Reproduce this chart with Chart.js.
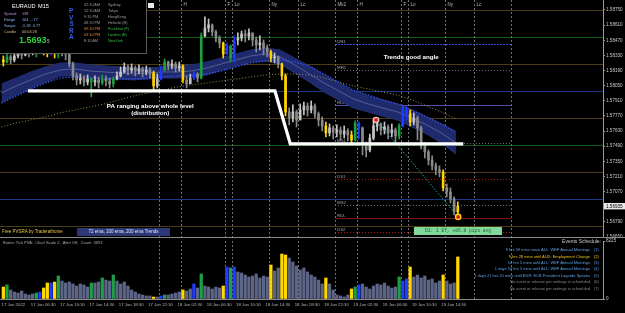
<!DOCTYPE html>
<html>
<head>
<meta charset="utf-8">
<title>EURAUD,M15 PVSRA</title>
<script src="https://cdn.jsdelivr.net/npm/chart.js@4.4.1/dist/chart.umd.min.js"></script>
<style>
html, body { margin: 0; padding: 0; background: #000; }
#wrap { position: relative; width: 625px; height: 313px; overflow: hidden; background: #000; font-family: "Liberation Sans", Arial, sans-serif; }
#priceChart { position: absolute; left: 0; top: 0; }
#volChart { position: absolute; left: 0; top: 238px; }
#sep { position: absolute; left: 0; top: 237px; width: 625px; height: 1px; background: #8a8a8a; }
.t { position: absolute; white-space: nowrap; line-height: 1; }
#info { position: absolute; left: 0; top: 0; width: 146px; height: 53px; background: #000; border-right: 1px solid #5a5a5a; border-bottom: 1px solid #5a5a5a; }
#info .row { font-size: 3.8px; }
#closeBtn { position: absolute; left: 148px; top: 3px; width: 6px; height: 5px; background: #e8e8e8; }
#emaBox { position: absolute; left: 77px; top: 228px; width: 93px; height: 8px; background: #2d3775; color: #dfe4ff; font-size: 4.5px; line-height: 8px; text-align: center; }
#d1Box { position: absolute; left: 414px; top: 227px; width: 88px; height: 8px; background: #80d89a; color: #255a35; font-family: "Liberation Mono", monospace; font-size: 4.6px; line-height: 8px; text-align: center; }
#events .ev { position: absolute; right: 35px; font-size: 4px; white-space: nowrap; line-height: 1; }
#events .num { position: absolute; left: 594px; font-size: 4px; white-space: nowrap; line-height: 1; }
</style>
</head>
<body>
<div id="wrap">
  <canvas id="priceChart" width="625" height="240"></canvas>
  <div id="sep"></div>
  <canvas id="volChart" width="625" height="75"></canvas>

  <div id="info">
    <div class="t" style="left:12px;top:4px;font-size:5.6px;color:#fff">EURAUD</div>
    <div class="t" style="left:38px;top:4px;font-size:5.6px;color:#fff">M15</div>
    <div class="t row" style="left:4px;top:12.5px;color:#b98de0">Spread</div>
    <div class="t row" style="left:22px;top:12.5px;color:#c88de0">138</div>
    <div class="t row" style="left:4px;top:18.5px;color:#8ab8f0">Range</div>
    <div class="t row" style="left:22px;top:18.5px;color:#8ab8f0">104 &nbsp;...77</div>
    <div class="t row" style="left:4px;top:25px;color:#8ab8f0">Swaps</div>
    <div class="t row" style="left:22px;top:25px;color:#8ab8f0">-5.33 &nbsp;0.77</div>
    <div class="t row" style="left:4px;top:31px;color:#d8b98a">Candle</div>
    <div class="t row" style="left:22px;top:31px;color:#d8b98a">00:04:28</div>
    <div class="t" style="left:19px;top:35.5px;font-size:9px;font-weight:bold;color:#2ecc40">1.5693</div>
    <div class="t" style="left:47px;top:39.5px;font-size:4.5px;color:#d0d0d0">5</div>
    <div class="t" style="left:69px;top:8px;font-size:6.5px;font-weight:bold;color:#3b5ee0">P</div>
    <div class="t" style="left:69px;top:14.5px;font-size:6.5px;font-weight:bold;color:#3b5ee0">V</div>
    <div class="t" style="left:69.5px;top:21px;font-size:6.5px;font-weight:bold;color:#3b5ee0">S</div>
    <div class="t" style="left:69px;top:27.5px;font-size:6.5px;font-weight:bold;color:#3b5ee0">R</div>
    <div class="t" style="left:69px;top:34px;font-size:6.5px;font-weight:bold;color:#3b5ee0">A</div>
    <div class="t row" style="left:84px;top:4px;color:#9a9a9a">02:10 AM</div>
    <div class="t row" style="left:108px;top:4px;color:#9a9a9a">Sydney</div>
    <div class="t row" style="left:84px;top:10px;color:#9a9a9a">12:10 AM</div>
    <div class="t row" style="left:108px;top:10px;color:#9a9a9a">Tokyo</div>
    <div class="t row" style="left:84px;top:15.5px;color:#9a9a9a">9:10 PM</div>
    <div class="t row" style="left:108px;top:15.5px;color:#9a9a9a">HongKong</div>
    <div class="t row" style="left:84px;top:21.5px;color:#9a9a9a">08:10 PM</div>
    <div class="t row" style="left:108px;top:21.5px;color:#9a9a9a">Helsinki (B)</div>
    <div class="t row" style="left:84px;top:27.5px;color:#d98a3a">09:10 PM</div>
    <div class="t row" style="left:108px;top:27.5px;color:#3cb84a">Frankfurt (F)</div>
    <div class="t row" style="left:84px;top:33.5px;color:#d98a3a">03:10 PM</div>
    <div class="t row" style="left:108px;top:33.5px;color:#3cb84a">London (B)</div>
    <div class="t row" style="left:84px;top:39.5px;color:#9a9a9a">8:10 AM</div>
    <div class="t row" style="left:108px;top:39.5px;color:#3cb84a">NewYork</div>
  </div>
  <div id="closeBtn"></div>

  <div class="t" style="left:2px;top:229.5px;font-size:4.5px;color:#e8c34a">Free PVSRA by Traderathome</div>
  <div id="emaBox">72 ema, 100 ema, 200 ema Trends</div>
  <div id="d1Box">D1: 1 Ef, +86.8 pips avg</div>

  <div class="t" style="left:3px;top:240.5px;font-size:4px;color:#a8a8a8">Broker Tick PVA: &nbsp;Chart Scale 2, &nbsp;Alert Off, &nbsp;Count &nbsp;3693</div>
  <div class="t" style="right:24px;top:238.5px;font-size:5px;color:#c8c8c8">Events Schedule:</div>
  <div id="events">
    <div class="ev" style="top:248px;color:#5aa0e6">9 hrs 59 mins since ALL: WEF Annual Meetings</div><div class="num" style="top:248px;color:#5aa0e6">(1)</div>
    <div class="ev" style="top:254.5px;color:#e6c020">9 hrs 28 mins until AUD: Employment Change</div><div class="num" style="top:254.5px;color:#e6c020">(2)</div>
    <div class="ev" style="top:261px;color:#5aa0e6">10 hrs 5 mins until ALL: WEF Annual Meetings</div><div class="num" style="top:261px;color:#5aa0e6">(3)</div>
    <div class="ev" style="top:267px;color:#5aa0e6">1 days 10 hrs 5 mins until ALL: WEF Annual Meetings</div><div class="num" style="top:267px;color:#5aa0e6">(4)</div>
    <div class="ev" style="top:273.5px;color:#5aa0e6">1 days 21 hrs 20 mins until EUR: ECB President Lagarde Speaks</div><div class="num" style="top:273.5px;color:#5aa0e6">(5)</div>
    <div class="ev" style="top:280px;color:#8a8a8a">No event or release per settings is scheduled</div><div class="num" style="top:280px;color:#8a8a8a">(6)</div>
    <div class="ev" style="top:286.5px;color:#8a8a8a">No event or release per settings is scheduled</div><div class="num" style="top:286.5px;color:#8a8a8a">(7)</div>
  </div>
</div>

<script>
// time axis: hours since 17 Jan 02:30 (broker time), one candle per half hour
const FIRST_HOUR = 0.25;
const STEP_HOURS = 0.5;
const X_MIN = -0.205;
const X_MAX = 82.06;
const TIME_TICKS = [0, 4, 8, 12, 16, 20, 24, 28, 32, 36, 40, 44, 48, 52, 56, 60];
const TIME_LABELS = ['17 Jan 2022', '17 Jan 06:30', '17 Jan 10:30', '17 Jan 14:30', '17 Jan 18:30', '17 Jan 22:30',
    '18 Jan 02:30', '18 Jan 06:30', '18 Jan 10:30', '18 Jan 14:30', '18 Jan 18:30', '18 Jan 22:30',
    '19 Jan 02:30', '19 Jan 06:30', '19 Jan 10:30', '19 Jan 14:30'];

// price axis
const PRICE_MIN = 1.5665;
const PRICE_MAX = 1.588425;
const PRICE_TICKS = [1.5875, 1.5861, 1.5847, 1.5833, 1.5819, 1.5805, 1.5791, 1.5777, 1.5763, 1.5749,
    1.5735, 1.5721, 1.5707, 1.5679, 1.5665];
const LAST_PRICE = 1.56935;

// candles
const FIRST_OPEN = 1.58288;
const CLOSE = [
    1.58269, 1.58316, 1.58288, 1.58325, 1.58353, 1.58334, 1.58371, 1.58353, 1.58380, 1.58362,
    1.58399, 1.58380, 1.58362, 1.58399, 1.58353, 1.58390, 1.58362, 1.58343, 1.58251, 1.58140,
    1.58103, 1.58121, 1.58084, 1.58112, 1.58084, 1.58103, 1.58075, 1.58112, 1.58094, 1.58066,
    1.58112, 1.58140, 1.58177, 1.58223, 1.58195, 1.58214, 1.58186, 1.58205, 1.58177, 1.58195,
    1.58168, 1.58047, 1.58112, 1.58195, 1.58269, 1.58232, 1.58251, 1.58214, 1.58232, 1.58103,
    1.58066, 1.58121, 1.58158, 1.58121, 1.58510, 1.58584, 1.58612, 1.58547, 1.58491, 1.58445,
    1.58343, 1.58417, 1.58306, 1.58473, 1.58491, 1.58528, 1.58510, 1.58538, 1.58473, 1.58427,
    1.58445, 1.58399, 1.58362, 1.58306, 1.58316, 1.58251, 1.58140, 1.57807, 1.57751, 1.57807,
    1.57733, 1.57825, 1.57862, 1.57825, 1.57862, 1.57788, 1.57733, 1.57677, 1.57613, 1.57659,
    1.57622, 1.57640, 1.57603, 1.57631, 1.57594, 1.57548, 1.57705, 1.57659, 1.57502, 1.57455,
    1.57566, 1.57677, 1.57696, 1.57640, 1.57668, 1.57613, 1.57640, 1.57585, 1.57677, 1.57825,
    1.57788, 1.57714, 1.57751, 1.57659, 1.57492, 1.57437, 1.57363, 1.57308, 1.57271, 1.57252,
    1.57104, 1.57067, 1.57002, 1.56882, 1.56935
];
const HIGH = [
    1.58325, 1.58343, 1.58334, 1.58362, 1.58390, 1.58380, 1.58408, 1.58399, 1.58417, 1.58408,
    1.58436, 1.58427, 1.58417, 1.58436, 1.58408, 1.58417, 1.58408, 1.58390, 1.58362, 1.58269,
    1.58168, 1.58158, 1.58140, 1.58149, 1.58121, 1.58140, 1.58131, 1.58149, 1.58140, 1.58121,
    1.58131, 1.58177, 1.58223, 1.58260, 1.58242, 1.58251, 1.58232, 1.58242, 1.58223, 1.58232,
    1.58214, 1.58186, 1.58158, 1.58232, 1.58297, 1.58279, 1.58288, 1.58269, 1.58269, 1.58242,
    1.58140, 1.58158, 1.58177, 1.58168, 1.58538, 1.58686, 1.58667, 1.58621, 1.58565, 1.58510,
    1.58454, 1.58445, 1.58427, 1.58510, 1.58538, 1.58556, 1.58565, 1.58575, 1.58538, 1.58501,
    1.58510, 1.58473, 1.58427, 1.58380, 1.58353, 1.58325, 1.58260, 1.58158, 1.57844, 1.57872,
    1.57825, 1.57881, 1.57899, 1.57890, 1.57909, 1.57881, 1.57807, 1.57761, 1.57714, 1.57696,
    1.57677, 1.57687, 1.57668, 1.57677, 1.57650, 1.57631, 1.57724, 1.57714, 1.57668, 1.57529,
    1.57603, 1.57733, 1.57742, 1.57705, 1.57714, 1.57687, 1.57696, 1.57659, 1.57696, 1.57853,
    1.57853, 1.57825, 1.57798, 1.57770, 1.57677, 1.57520, 1.57455, 1.57400, 1.57335, 1.57308,
    1.57271, 1.57141, 1.57104, 1.57021, 1.56975
];
const LOW = [
    1.58232, 1.58260, 1.58251, 1.58269, 1.58306, 1.58297, 1.58325, 1.58316, 1.58334, 1.58316,
    1.58343, 1.58334, 1.58316, 1.58334, 1.58306, 1.58306, 1.58325, 1.58288, 1.58223, 1.58103,
    1.58057, 1.58066, 1.58047, 1.58057, 1.57946, 1.58047, 1.58029, 1.58057, 1.58047, 1.58029,
    1.58038, 1.58103, 1.58131, 1.58168, 1.58149, 1.58168, 1.58140, 1.58158, 1.58131, 1.58149,
    1.58121, 1.58010, 1.58029, 1.58103, 1.58186, 1.58195, 1.58205, 1.58177, 1.58186, 1.58075,
    1.58029, 1.58075, 1.58103, 1.58084, 1.58112, 1.58501, 1.58547, 1.58510, 1.58454, 1.58399,
    1.58306, 1.58334, 1.58269, 1.58269, 1.58427, 1.58464, 1.58454, 1.58473, 1.58417, 1.58362,
    1.58380, 1.58334, 1.58316, 1.58269, 1.58260, 1.58214, 1.58103, 1.57770, 1.57687, 1.57714,
    1.57668, 1.57733, 1.57779, 1.57770, 1.57798, 1.57751, 1.57677, 1.57631, 1.57576, 1.57585,
    1.57557, 1.57576, 1.57548, 1.57566, 1.57539, 1.57520, 1.57539, 1.57557, 1.57409, 1.57391,
    1.57437, 1.57548, 1.57631, 1.57594, 1.57603, 1.57557, 1.57576, 1.57529, 1.57557, 1.57668,
    1.57733, 1.57677, 1.57687, 1.57548, 1.57465, 1.57381, 1.57317, 1.57271, 1.57225, 1.57206,
    1.57076, 1.57021, 1.56965, 1.56854, 1.56826
];
// PVSRA class per candle: n normal, y yellow, g green, b blue
const PVSRA = 'ygnnnnnnng' + 'byybygnnnn' + 'nnnngnngnn' + 'gnnnnnnnnn' + 'nynbgnnnny' +
    'nnbngnnnnn' + 'ybgbnnnnnn' + 'nnnynnyynn' + 'nnnnnnnnyn' + 'nnnnnygbnn' +
    'nnnnnnnngb' + 'bynnnnnnnn' + 'ynnny';
const VOLUME = [
    1700, 2000, 1280, 990, 850, 1130, 710, 570, 710, 850,
    990, 1560, 2270, 2270, 2410, 3260, 2550, 2270, 2410, 2130,
    1840, 2130, 1990, 1700, 2270, 2270, 2410, 2980, 2690, 2550,
    3400, 2550, 2130, 2410, 1840, 1280, 990, 710, 570, 430,
    430, 280, 280, 430, 570, 570, 710, 850, 990, 1280,
    1130, 1420, 2130, 1560, 3550, 1840, 1700, 1420, 1700, 1560,
    1840, 4540, 4400, 4540, 3830, 3690, 3400, 3120, 3260, 3550,
    2980, 3260, 3120, 4820, 3970, 4400, 6380, 6240, 5810, 5250,
    4680, 4110, 4400, 3830, 3400, 3120, 2690, 2130, 2980, 2130,
    1280, 570, 430, 280, 570, 1420, 1700, 1990, 2130, 1700,
    1420, 1840, 2130, 1990, 2270, 1840, 1560, 1700, 3120, 2550,
    2840, 4540, 3120, 3400, 2980, 3260, 2690, 2840, 2270, 2550,
    3400, 2550, 2130, 2270, 5960
];
const VOL_MAX = 8225;

// moving averages, sampled every 2 hours
const EMA_HOURS = [0, 2, 4, 6, 8, 10, 12, 14, 16, 18, 20, 22, 24, 26, 28, 30,
    32, 34, 36, 38, 40, 42, 44, 46, 48, 50, 52, 54, 56, 58, 60, 62];
const BAND_TOP = [1.58066, 1.58121, 1.58177, 1.58223, 1.58260, 1.58260, 1.58242, 1.58232, 1.58223, 1.58214,
    1.58214, 1.58223, 1.58232, 1.58242, 1.58269, 1.58306, 1.58343, 1.58380, 1.58399, 1.58380,
    1.58306, 1.58232, 1.58149, 1.58075, 1.58001, 1.57955, 1.57918, 1.57881, 1.57825, 1.57761,
    1.57696, 1.57622];
const BAND_BOTTOM = [1.57899, 1.57964, 1.58029, 1.58084, 1.58140, 1.58140, 1.58121, 1.58112, 1.58112, 1.58103,
    1.58112, 1.58121, 1.58121, 1.58131, 1.58149, 1.58195, 1.58232, 1.58269, 1.58279, 1.58251,
    1.58168, 1.58084, 1.57992, 1.57918, 1.57844, 1.57807, 1.57770, 1.57733, 1.57668, 1.57603,
    1.57520, 1.57418];
const EMA72 = [1.57983, 1.58047, 1.58103, 1.58158, 1.58195, 1.58205, 1.58186, 1.58177, 1.58168, 1.58158,
    1.58168, 1.58177, 1.58177, 1.58186, 1.58214, 1.58251, 1.58288, 1.58325, 1.58343, 1.58316,
    1.58242, 1.58158, 1.58075, 1.58001, 1.57927, 1.57881, 1.57844, 1.57807, 1.57751, 1.57687,
    1.57613, 1.57520];
const EMA100 = [1.57890, 1.57955, 1.58020, 1.58075, 1.58121, 1.58131, 1.58121, 1.58112, 1.58112, 1.58112,
    1.58121, 1.58131, 1.58140, 1.58149, 1.58158, 1.58186, 1.58223, 1.58260, 1.58279, 1.58288,
    1.58269, 1.58232, 1.58158, 1.58084, 1.58010, 1.57964, 1.57918, 1.57881, 1.57825, 1.57761,
    1.57696, 1.57622];
const EMA200 = [1.57668, 1.57705, 1.57733, 1.57761, 1.57798, 1.57825, 1.57853, 1.57881, 1.57918, 1.57955,
    1.57983, 1.58010, 1.58038, 1.58057, 1.58075, 1.58094, 1.58112, 1.58131, 1.58149, 1.58158,
    1.58158, 1.58149, 1.58121, 1.58084, 1.58047, 1.58020, 1.57992, 1.57964, 1.57918, 1.57862,
    1.57807, 1.57742];

// quarter levels
const LEVEL_PRICES = [1.5875, 1.5850, 1.5825, 1.5800, 1.5775, 1.5750, 1.5725, 1.5700, 1.5675];
const LEVEL_COLORS = ['#4a3c14', '#0d5e14', '#4a3c14', '#1a3a86', '#4a3c14', '#0d5e14', '#4a3c14', '#1a3a86', '#4a3c14'];

// sessions
const SESSION_HOURS = [21.5, 24.5, 30.5, 31.5, 36.5, 40.5, 45.5, 48.5, 54.5, 55.5, 60.5, 64.5, 69.5];
const SESSION_LABELS = ['', 'H', 'F', 'Lo', 'Ny', 'Lc', 'Mk2', 'H', 'F', 'Lo', 'Ny', 'Lc', ''];

// daily pivot levels for 19 Jan
const PIVOT_FROM = 45.5;
const PIVOT_TO = 69.5;
const PIVOT_NAMES = ['DR1', 'MR1', 'RDH', 'MS1', 'DS1', 'MS2', 'RDL', 'DS2'];
const PIVOT_PRICES = [1.58436, 1.58195, 1.57872, 1.57520, 1.57187, 1.56947, 1.56826, 1.56696];
const PIVOT_COLORS = ['#2f52d8', '#6d6d6d', '#5a4fa8', '#6d6d6d', '#b01818', '#6d6d6d', '#7a1414', '#b01818'];
const PIVOT_DASH = [[2, 1], [1, 2], [], [1, 2], [1, 2], [1, 2], [], [1, 2]];

// hand drawn objects
const WHITE_HOURS = [3.6, 37.3, 39.4, 63.0];
const WHITE_PRICES = [1.58001, 1.58001, 1.57511, 1.57511];
const TREND_HOURS = [51.1, 62.3];
const TREND_PRICES = [1.57733, 1.56836];
const MARK_HOURS = [51.1, 62.3];
const MARK_PRICES = [1.57733, 1.56836];
const NOTE_TEXTS = ['PA ranging above whole level', '(distribution)', 'Trends good angle'];
const NOTE_HOURS = [20.3, 20.3, 55.9];
const NOTE_PRICES = [1.57862, 1.57795, 1.58316];

const FONT = '"Liberation Sans", Arial, sans-serif';
const COLORS = { y: '#ffd400', g: '#1e9e3e', b: '#1e3cff' };
const VOL_COLORS = { y: '#ffd800', g: '#1f9e46', b: '#1f3cff', n: '#5d6587' };

const candleX = CLOSE.map((c, i) => FIRST_HOUR + i * STEP_HOURS);
const opens = CLOSE.map((c, i) => i === 0 ? FIRST_OPEN : CLOSE[i - 1]);
const candleColors = CLOSE.map((c, i) => COLORS[PVSRA[i]] || (c >= opens[i] ? '#c4c4c4' : '#8a8a8a'));
const volColors = VOLUME.map((v, i) => VOL_COLORS[PVSRA[i]]);
const pts = (xs, ys) => xs.map((t, i) => ({ x: t, y: ys[i] }));

function drawSessions(chart, withLabels) {
    const { ctx, chartArea: a, scales: { x } } = chart;
    ctx.save();
    ctx.strokeStyle = '#6e6e6e';
    ctx.lineWidth = 1;
    ctx.setLineDash([2, 2]);
    ctx.font = '4.6px ' + FONT;
    ctx.fillStyle = '#b4b4b4';
    ctx.textBaseline = 'middle';
    SESSION_HOURS.forEach((t, k) => {
        const px = Math.round(x.getPixelForValue(t)) + 0.5;
        ctx.beginPath();
        ctx.moveTo(px, a.top);
        ctx.lineTo(px, a.bottom);
        ctx.stroke();
        if (withLabels && SESSION_LABELS[k]) ctx.fillText(SESSION_LABELS[k], px + 2, a.top + 4.5);
    });
    ctx.restore();
}

const priceOverlay = {
    id: 'priceOverlay',
    beforeDatasetsDraw(chart) {
        const { ctx, chartArea: a, scales: { x, y } } = chart;
        ctx.save();
        // quarter levels
        LEVEL_PRICES.forEach((p, k) => {
            const py = Math.round(y.getPixelForValue(p)) + 0.5;
            ctx.strokeStyle = LEVEL_COLORS[k];
            ctx.beginPath();
            ctx.moveTo(a.left, py);
            ctx.lineTo(a.right, py);
            ctx.stroke();
        });
        // pivots
        const x0 = x.getPixelForValue(PIVOT_FROM);
        const x1 = x.getPixelForValue(PIVOT_TO);
        ctx.font = '4.4px ' + FONT;
        ctx.textBaseline = 'bottom';
        PIVOT_PRICES.forEach((p, k) => {
            const py = Math.round(y.getPixelForValue(p)) + 0.5;
            ctx.strokeStyle = PIVOT_COLORS[k];
            ctx.setLineDash(PIVOT_DASH[k]);
            ctx.beginPath();
            ctx.moveTo(x0, py);
            ctx.lineTo(x1, py);
            ctx.stroke();
            ctx.fillStyle = '#a0a0a0';
            ctx.fillText(PIVOT_NAMES[k], x0 + 2, py - 1);
        });
        ctx.restore();
        drawSessions(chart, true);
    },
    afterDatasetsDraw(chart) {
        const { ctx, chartArea: a, scales: { x, y } } = chart;
        ctx.save();
        ctx.fillStyle = '#ffffff';
        ctx.font = 'bold 6.2px ' + FONT;
        ctx.textAlign = 'center';
        ctx.textBaseline = 'middle';
        NOTE_TEXTS.forEach((s, k) => {
            ctx.fillText(s, x.getPixelForValue(NOTE_HOURS[k]), y.getPixelForValue(NOTE_PRICES[k]));
        });
        // current price box on the axis
        const py = y.getPixelForValue(LAST_PRICE);
        ctx.fillStyle = '#e8e8e8';
        ctx.fillRect(a.right + 1, py - 3.2, 21, 6.4);
        ctx.fillStyle = '#000';
        ctx.font = '4.6px ' + FONT;
        ctx.textAlign = 'left';
        ctx.fillText(LAST_PRICE.toFixed(5), a.right + 3, py + 0.2);
        ctx.restore();
    }
};

new Chart(document.getElementById('priceChart'), {
    type: 'bar',
    data: {
        datasets: [
            { type: 'line', data: pts(EMA_HOURS, BAND_TOP), borderColor: '#25317a', borderWidth: 1, pointRadius: 0, fill: false, order: 30 },
            { type: 'line', data: pts(EMA_HOURS, BAND_BOTTOM), borderColor: '#25317a', borderWidth: 1, pointRadius: 0, fill: '-1', backgroundColor: '#1f2a6c', order: 29 },
            { type: 'line', data: pts(EMA_HOURS, EMA200), borderColor: '#9a8e4a', borderWidth: 1, borderDash: [1, 2], pointRadius: 0, order: 28 },
            { type: 'line', data: pts(EMA_HOURS, EMA72), borderColor: '#5f6c9c', borderWidth: 0.8, pointRadius: 0, order: 27 },
            { type: 'line', data: pts(EMA_HOURS, EMA100), borderColor: '#3557ff', borderWidth: 1.2, borderDash: [1.5, 1.5], pointRadius: 0, order: 26 },
            { data: candleX.map((t, i) => ({ x: t, y: [LOW[i], HIGH[i]] })), backgroundColor: candleColors, barThickness: 1, grouped: false, order: 10 },
            { data: candleX.map((t, i) => ({ x: t, y: [opens[i], CLOSE[i]] })), backgroundColor: candleColors, barThickness: 2, minBarLength: 1, grouped: false, order: 9 },
            { type: 'line', data: pts(TREND_HOURS, TREND_PRICES), borderColor: '#2aa0a0', borderWidth: 1, borderDash: [1.5, 1.5], pointRadius: 0, order: 3 },
            { type: 'line', data: pts(WHITE_HOURS, WHITE_PRICES), borderColor: '#ffffff', borderWidth: 3.2, pointRadius: 0, tension: 0, order: 2 },
            { type: 'line', data: pts(MARK_HOURS, MARK_PRICES), showLine: false, pointRadius: 2.6, pointBackgroundColor: '#e01414', pointBorderColor: ['#f2c8c8', '#ffd200'], pointBorderWidth: 1.4, order: 1 }
        ]
    },
    options: {
        animation: false,
        responsive: false,
        devicePixelRatio: 1,
        layout: { autoPadding: false, padding: { top: 0, right: 0, bottom: 3, left: 0 } },
        plugins: { legend: { display: false }, tooltip: { enabled: false } },
        scales: {
            x: { type: 'linear', display: false, min: X_MIN, max: X_MAX, offset: false },
            y: {
                type: 'linear', position: 'right', min: PRICE_MIN, max: PRICE_MAX,
                afterBuildTicks: s => { s.ticks = PRICE_TICKS.map(v => ({ value: v })); },
                afterFit: s => { s.width = 22; s.paddingTop = 0; s.paddingBottom = 0; },
                ticks: { callback: v => v.toFixed(5), font: { family: FONT, size: 4.6 }, color: '#c8c8c8', padding: 1 },
                grid: { drawOnChartArea: false, tickLength: 2, color: '#9a9a9a' },
                border: { color: '#9a9a9a' }
            }
        }
    },
    plugins: [priceOverlay]
});

new Chart(document.getElementById('volChart'), {
    type: 'bar',
    data: {
        datasets: [{
            data: candleX.map((t, i) => ({ x: t, y: VOLUME[i] })),
            backgroundColor: volColors,
            barThickness: 2.6,
            grouped: false
        }]
    },
    options: {
        animation: false,
        responsive: false,
        devicePixelRatio: 1,
        layout: { autoPadding: false, padding: { top: 3, right: 0, bottom: 0, left: 0 } },
        plugins: { legend: { display: false }, tooltip: { enabled: false } },
        scales: {
            x: {
                type: 'linear', min: X_MIN, max: X_MAX, offset: false,
                afterBuildTicks: s => { s.ticks = TIME_TICKS.map(v => ({ value: v })); },
                afterFit: s => { s.height = 14; s.paddingLeft = 0; s.paddingRight = 0; },
                ticks: { callback: (v, i) => TIME_LABELS[i], align: 'start', autoSkip: false, maxRotation: 0,
                    font: { family: FONT, size: 4.3 }, color: '#b4b4b4', padding: 3 },
                grid: { display: false, drawTicks: false },
                border: { display: true, color: '#8a8a8a' }
            },
            y: {
                type: 'linear', position: 'right', min: 0, max: VOL_MAX,
                afterBuildTicks: s => { s.ticks = [{ value: VOL_MAX }, { value: 0 }]; },
                afterFit: s => { s.width = 22; s.paddingTop = 0; s.paddingBottom = 0; },
                ticks: { callback: v => String(v), font: { family: FONT, size: 4.6 }, color: '#c8c8c8', padding: 1 },
                grid: { drawOnChartArea: false, tickLength: 2, color: '#9a9a9a' },
                border: { color: '#9a9a9a' }
            }
        }
    },
    plugins: [{ id: 'volSessions', beforeDatasetsDraw(chart) { drawSessions(chart, false); } }]
});
</script>
</body>
</html>
